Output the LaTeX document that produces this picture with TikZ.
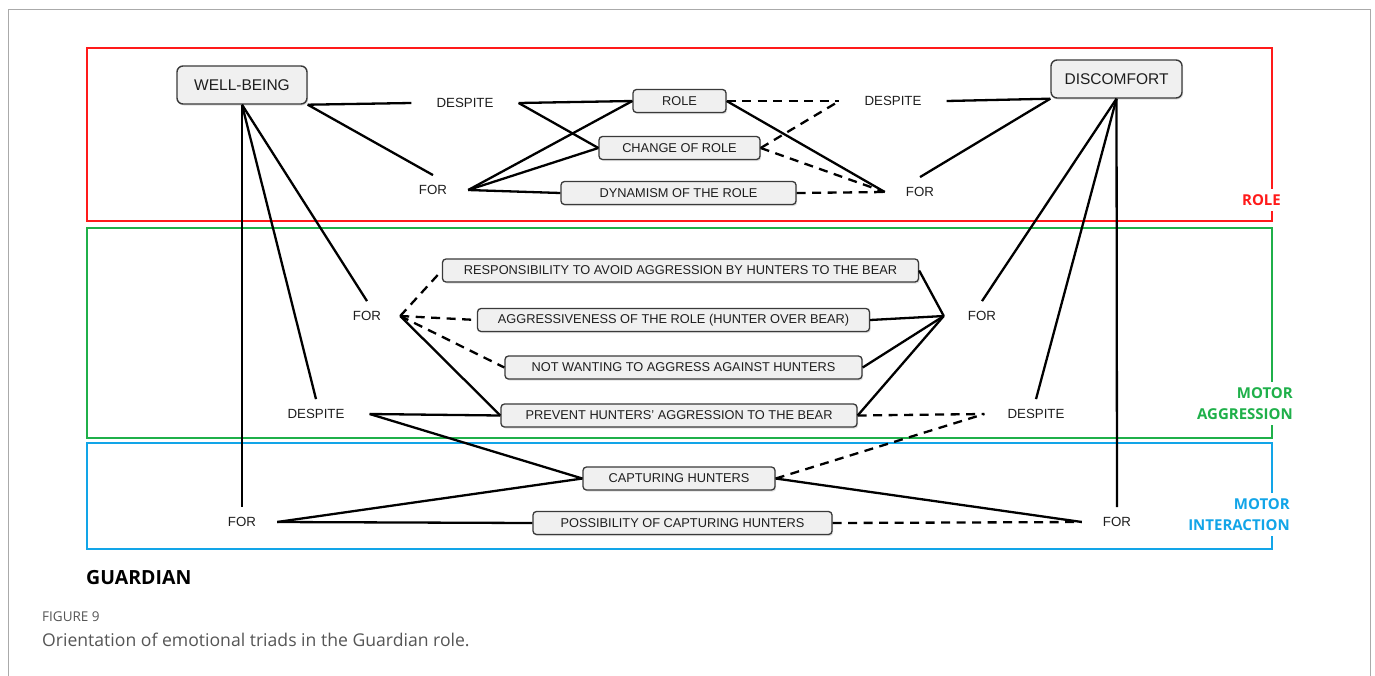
\documentclass[tikz,border=0pt]{standalone}
\usepackage{fontspec}
\setmainfont{Liberation Sans}
\newfontfamily\labelfont{Open Sans}
\usetikzlibrary{shadows}
\definecolor{rolered}{HTML}{FF1A1A}
\definecolor{motgreen}{HTML}{1FB04A}
\definecolor{motblue}{HTML}{12A5E8}
\definecolor{boxfill}{HTML}{F0F0F0}
\definecolor{boxline}{HTML}{3A3A3A}
\definecolor{txt}{HTML}{1E1E1E}
\definecolor{capgrey}{HTML}{555555}
\definecolor{framegrey}{HTML}{AAAAAA}
\begin{document}
\begin{tikzpicture}[x=1pt,y=-1pt,
  item/.style={draw=boxline, line width=1.3pt, fill=boxfill, rounded corners=3.5pt,
    minimum height=23pt, inner sep=0pt, font=\fontsize{12.8}{15}\selectfont, text=txt,
    drop shadow={shadow xshift=1.2pt, shadow yshift=-1.5pt, opacity=0.25}},
  emo/.style={item, line width=1.4pt, rounded corners=6pt, minimum height=38pt,
    font=\fontsize{15.5}{18}\selectfont},
  word/.style={inner ysep=10pt, font=\fontsize{13.3}{16}\selectfont, text=txt},
  forw/.style={word, inner xsep=21pt},
  despw/.style={word, inner xsep=25pt},
  link/.style={line width=2.3pt, draw=black},
  dlink/.style={link, dash pattern=on 9pt off 6.5pt},
  zone/.style={line width=2pt},
  zonelabel/.style={font=\labelfont\bfseries\fontsize{15}{21}\selectfont, align=right,
    fill=white, inner xsep=1pt, inner ysep=5pt, anchor=east},
  plain/.style={inner sep=0pt, anchor=west},
]
\useasboundingbox (0,0) rectangle (1375,675);
\fill[white] (0,0) rectangle (1375,675);
% frame
\draw[framegrey, line width=1pt] (8,680) -- (8,9) -- (1370,9) -- (1370,680);
% zones
\draw[zone, rolered] (87,48) rectangle (1272,221);
\draw[zone, motgreen] (87,228) rectangle (1272,438);
\draw[zone, motblue] (87,443) rectangle (1272,549);
\node[zonelabel, text=rolered] (lrole) at (1282,200) {ROLE};
\node[zonelabel, text=motgreen] (lagg) at (1294,403.5) {MOTOR\\AGGRESSION};
\node[zonelabel, text=motblue] (lint) at (1291,514.5) {MOTOR\\INTERACTION};

% emotion boxes
\node[emo, minimum width=130pt] (wb) at (242,85) {WELL-BEING};
\node[emo, minimum width=131pt] (dc) at (1116.5,79) {DISCOMFORT};
% item boxes
\node[item, minimum width=93pt] (role) at (679.5,101) {ROLE};
\node[item, minimum width=161pt] (cor) at (679.5,148) {CHANGE OF ROLE};
\node[item, minimum width=235pt] (dyn) at (678.5,193) {DYNAMISM OF THE ROLE};
\node[item, minimum width=476pt] (resp) at (680.5,270.5) {RESPONSIBILITY TO AVOID AGGRESSION BY HUNTERS TO THE BEAR};
\node[item, minimum width=392pt] (aggr) at (673.5,320) {AGGRESSIVENESS OF THE ROLE (HUNTER OVER BEAR)};
\node[item, minimum width=357pt] (notw) at (683.5,367.5) {NOT WANTING TO AGGRESS AGAINST HUNTERS};
\node[item, minimum width=356pt] (prev) at (679,415.5) {PREVENT HUNTERS' AGGRESSION TO THE BEAR};
\node[item, minimum width=192pt] (capt) at (679,478.5) {CAPTURING HUNTERS};
\node[item, minimum width=299pt] (poss) at (682.5,523) {POSSIBILITY OF CAPTURING HUNTERS};
% words
\node[despw] (d1) at (465,103) {DESPITE};
\node[forw] (f1) at (433,190) {FOR};
\node[despw] (d2) at (893,101) {DESPITE};
\node[forw] (f2) at (920,192) {FOR};
\node[forw, inner xsep=19pt] (f3) at (367,316) {FOR};
\node[despw] (d3) at (316,414) {DESPITE};
\node[forw, inner xsep=24pt] (f4) at (982,316) {FOR};
\node[despw, inner xsep=23pt] (d4) at (1036,414) {DESPITE};
\node[forw] (f5) at (242,522) {FOR};
\node[forw] (f6) at (1117,522) {FOR};

% connectors: role zone
\draw[link] (wb.south east) -- (d1.west);
\draw[link] (wb.south east) -- (f1.north);
\draw[link] (d1.east) -- (role.west);
\draw[link] (d1.east) -- (cor.west);
\draw[link] (f1.east) -- (role.west);
\draw[link] (f1.east) -- (cor.west);
\draw[link] (f1.east) -- (dyn.west);
\draw[dlink] (role.east) -- (d2.west);
\draw[link] (role.east) -- (f2.west);
\draw[dlink] (cor.east) -- (d2.west);
\draw[dlink] (cor.east) -- (f2.west);
\draw[dlink] (dyn.east) -- (f2.west);
\draw[link] (d2.east) -- (dc.south west);
\draw[link] (f2.north) -- (dc.south west);
% emotions to lower words
\draw[link] (wb.south) -- (f5.north);
\draw[link] (wb.south) -- (f3.north);
\draw[link] (wb.south) -- (d3.north);
\draw[link] (dc.south) -- (f6.north);
\draw[link] (dc.south) -- (f4.north);
\draw[link] (dc.south) -- (d4.north);
% motor aggression
\draw[dlink] (f3.east) -- (resp.west);
\draw[dlink] (f3.east) -- (aggr.west);
\draw[dlink] (f3.east) -- (notw.west);
\draw[link] (f3.east) -- (prev.west);
\draw[link] (resp.east) -- (f4.west);
\draw[link] (aggr.east) -- (f4.west);
\draw[link] (notw.east) -- (f4.west);
\draw[link] (prev.east) -- (f4.west);
\draw[dlink] (prev.east) -- (d4.west);
\draw[link] (d3.east) -- (prev.west);
\draw[link] (d3.east) -- (capt.west);
\draw[dlink] (capt.east) -- (d4.west);
% motor interaction
\draw[link] (f5.east) -- (capt.west);
\draw[link] (f5.east) -- (poss.west);
\draw[link] (capt.east) -- (f6.west);
\draw[dlink] (poss.east) -- (f6.west);

% titles
\node[plain, font=\labelfont\bfseries\fontsize{19.5}{22}\selectfont] (guard) at (86,578) {GUARDIAN};
\node[plain, font=\labelfont\fontsize{13.5}{15}\selectfont, text=capgrey] (fig) at (42,617) {FIGURE 9};
\node[plain, font=\labelfont\fontsize{17.6}{20}\selectfont, text=capgrey] (cap) at (42,640) {Orientation of emotional triads in the Guardian role.};
\end{tikzpicture}
\end{document}
